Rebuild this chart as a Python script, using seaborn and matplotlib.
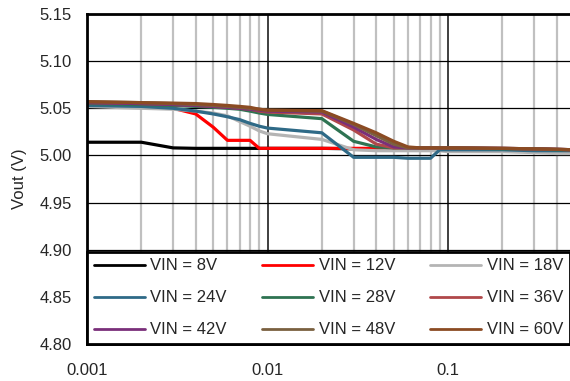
import numpy as np
import pandas as pd
import seaborn as sns
import matplotlib.pyplot as plt
from matplotlib.ticker import FixedLocator, FixedFormatter, NullFormatter

sns.set_style("white")
plt.rcParams['font.family'] = ['Liberation Sans', 'DejaVu Sans']

# load current (A)
iout = [0.001, 0.002, 0.003, 0.004, 0.005, 0.006, 0.007, 0.008, 0.009,
        0.01, 0.02, 0.03, 0.04, 0.05, 0.06, 0.07, 0.08, 0.09,
        0.1, 0.2, 0.3, 0.4, 0.5]

vin_8 = [5.014, 5.014, 5.008, 5.0075, 5.0075, 5.0075, 5.0075, 5.0075, 5.0075,
         5.0075, 5.0075, 5.007, 5.007, 5.007, 5.007, 5.007, 5.007, 5.007,
         5.007, 5.006, 5.006, 5.005, 5.005]
vin_12 = [5.053, 5.052, 5.050, 5.044, 5.030, 5.016, 5.016, 5.016, 5.0075,
          5.0075, 5.0075, 5.0075, 5.0075, 5.0075, 5.0075, 5.0075, 5.0075, 5.0075,
          5.0075, 5.007, 5.007, 5.006, 5.006]
vin_18 = [5.052, 5.050, 5.049, 5.047, 5.045, 5.042, 5.036, 5.031, 5.026,
          5.023, 5.017, 5.006, 5.005, 5.005, 5.005, 5.005, 5.005, 5.005,
          5.004, 5.004, 5.003, 5.002, 5.002]
vin_24 = [5.053, 5.052, 5.050, 5.047, 5.044, 5.041, 5.038, 5.034, 5.031,
          5.029, 5.024, 4.998, 4.998, 4.998, 4.997, 4.997, 4.997, 5.006,
          5.006, 5.006, 5.005, 5.005, 5.005]
vin_28 = [5.055, 5.054, 5.053, 5.052, 5.051, 5.050, 5.049, 5.047, 5.045,
          5.0435, 5.039, 5.015, 5.009, 5.008, 5.008, 5.008, 5.008, 5.008,
          5.008, 5.007, 5.007, 5.006, 5.006]
vin_36 = [5.056, 5.055, 5.054, 5.053, 5.052, 5.051, 5.050, 5.049, 5.047,
          5.046, 5.044, 5.027, 5.012, 5.008, 5.008, 5.008, 5.008, 5.008,
          5.008, 5.0075, 5.007, 5.0065, 5.006]
vin_42 = [5.056, 5.055, 5.054, 5.053, 5.052, 5.051, 5.050, 5.049, 5.048,
          5.047, 5.046, 5.030, 5.017, 5.009, 5.008, 5.008, 5.008, 5.008,
          5.008, 5.0075, 5.007, 5.0065, 5.006]
vin_48 = [5.057, 5.056, 5.055, 5.054, 5.053, 5.052, 5.051, 5.050, 5.049,
          5.048, 5.047, 5.033, 5.021, 5.012, 5.008, 5.008, 5.008, 5.008,
          5.008, 5.0075, 5.007, 5.0065, 5.006]
vin_60 = [5.057, 5.056, 5.0555, 5.055, 5.054, 5.053, 5.052, 5.051, 5.049,
          5.048, 5.0475, 5.034, 5.024, 5.015, 5.009, 5.008, 5.008, 5.008,
          5.008, 5.0075, 5.007, 5.0065, 5.006]

labels = ["VIN = 8V", "VIN = 12V", "VIN = 18V", "VIN = 24V", "VIN = 28V",
          "VIN = 36V", "VIN = 42V", "VIN = 48V", "VIN = 60V"]
series = [vin_8, vin_12, vin_18, vin_24, vin_28, vin_36, vin_42, vin_48, vin_60]
colors = ["#000000", "#ff0000", "#b4b4b4", "#2f6a87", "#2e7352",
          "#b0484a", "#7a2f7a", "#7a6040", "#8b4b23"]

xticks = [0.001, 0.01, 0.1]
xtick_labels = ["0.001", "0.01", "0.1"]
yticks = [4.80, 4.85, 4.90, 4.95, 5.00, 5.05, 5.10, 5.15]

df = pd.concat([pd.DataFrame({"Iout": iout, "Vout": v, "VIN": lab})
                for v, lab in zip(series, labels)], ignore_index=True)

fig = plt.figure(figsize=(5.70, 3.81), dpi=100)
ax = fig.add_axes([87 / 570, (381 - 344) / 381, (570 - 87) / 570, 330 / 381])

sns.lineplot(data=df, x="Iout", y="Vout", hue="VIN", hue_order=labels,
             palette=colors, linewidth=2.3, ax=ax)

ax.set_xscale("log")
ax.set_xlim(0.001, 0.474)
ax.set_ylim(4.80, 5.15)

# grid: grey minor verticals, black majors
minor = [m * 10.0 ** e for e in (-3, -2, -1) for m in range(2, 10)]
ax.xaxis.set_major_locator(FixedLocator(xticks))
ax.xaxis.set_major_formatter(FixedFormatter(xtick_labels))
ax.xaxis.set_minor_locator(FixedLocator(minor))
ax.xaxis.set_minor_formatter(NullFormatter())
ax.set_yticks(yticks)
ax.set_yticklabels([f"{v:.2f}" for v in yticks])
ax.grid(which="minor", axis="x", color="#c0c0c0", linewidth=1.6)
ax.grid(which="major", axis="x", color="#303030", linewidth=1.3)
ax.grid(which="major", axis="y", color="#000000", linewidth=0.9)
ax.set_axisbelow(True)
ax.tick_params(which="both", length=0, labelsize=12)
ax.tick_params(axis="x", pad=14)
ax.tick_params(axis="y", pad=11)

for side in ("left", "top", "bottom"):
    ax.spines[side].set_color("black")
    ax.spines[side].set_linewidth(2)
ax.spines["right"].set_visible(False)

ax.set_xlabel("")
ax.set_ylabel("Vout (V)", fontsize=12, labelpad=9)

# legend in rows: 8/12/18, 24/28/36, 42/48/60
handles, labs = ax.get_legend_handles_labels()
order = [0, 3, 6, 1, 4, 7, 2, 5, 8]
leg = ax.legend([handles[i] for i in order], [labs[i] for i in order],
                ncol=3, loc="lower left", bbox_to_anchor=(0, 0, 1, 0.282),
                mode="expand", fontsize=12, handlelength=3.05, handletextpad=0.35,
                labelspacing=1.02, borderaxespad=0, fancybox=False,
                framealpha=1, edgecolor="black")
leg.get_frame().set_linewidth(2)
for line in leg.get_lines():
    line.set_linewidth(2)

fig.savefig("out.png", dpi=100)
